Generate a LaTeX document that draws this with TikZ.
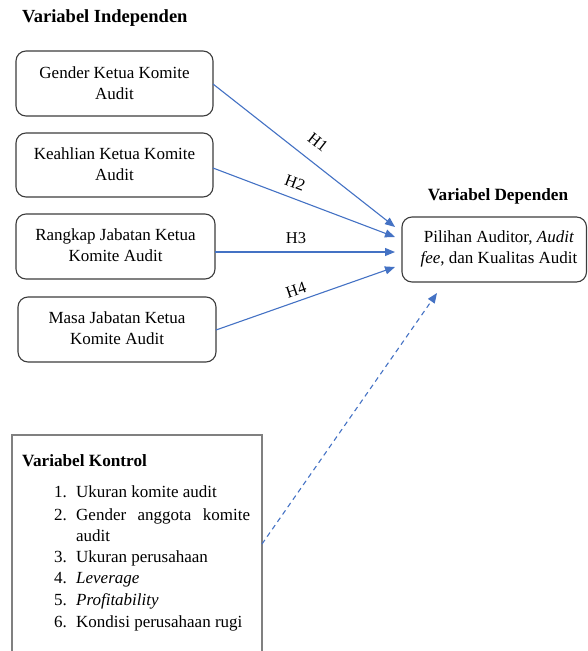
\documentclass[tikz,border=0pt]{standalone}
\usepackage{fontspec}
\setmainfont{Liberation Serif}
\usetikzlibrary{arrows.meta}
\definecolor{arrowblue}{RGB}{68,114,196}
\definecolor{boxgray}{RGB}{60,60,60}
\tikzset{
  varbox/.style={draw=boxgray, line width=1.1pt, rounded corners=10pt},
  boxtext/.style={font=\fontsize{17}{21}\selectfont, align=center, inner sep=0pt},
  heading/.style={font=\fontsize{17.2}{20}\selectfont\bfseries, inner sep=0pt},
  hyp/.style={draw=arrowblue, line width=1.1pt, -{Triangle[length=10pt,width=8pt]}},
  hlabel/.style={font=\fontsize{16.5}{19}\selectfont, inner sep=0pt},
  listtext/.style={font=\fontsize{17}{20}\selectfont, inner sep=0pt, anchor=base west},
}
\begin{document}
\begin{tikzpicture}[x=1pt,y=-1pt]
\useasboundingbox (0,0) rectangle (587,651);
% headings
\node[heading, font=\fontsize{18.5}{21}\selectfont\bfseries, anchor=west] (hind) at (22,18) {Variabel Independen};
\node[heading] (hdep) at (498,196) {Variabel Dependen};
% independent boxes
\draw[varbox] (16,51) rectangle (213,116);
\node[boxtext] (b1) at (114.5,83) {Gender Ketua Komite\\Audit};
\coordinate (b1e) at (213,84);
\draw[varbox] (16,133) rectangle (213,197);
\node[boxtext] (b2) at (114.5,164) {Keahlian Ketua Komite\\Audit};
\coordinate (b2e) at (213,168);
\draw[varbox] (16,214) rectangle (215,279);
\node[boxtext] (b3) at (115.5,245.5) {Rangkap Jabatan Ketua\\Komite Audit};
\coordinate (b3e) at (215,252);
\draw[varbox] (18,297) rectangle (216,362);
\node[boxtext] (b4) at (117,328.5) {Masa Jabatan Ketua\\Komite Audit};
\coordinate (b4e) at (216,330);
% dependent box
\draw[varbox] (402,217) rectangle (586.5,282);
\node[boxtext] (dep) at (499,248.5) {Pilihan Auditor, \textit{Audit}\\\textit{fee}, dan Kualitas Audit};
\coordinate (t1) at (395,227);
\coordinate (t2) at (395,237);
\coordinate (t3) at (395,252);
\coordinate (t4) at (395,267);
\coordinate (t5) at (437,293);
% arrows
\draw[hyp] (b1e) -- (t1);
\draw[hyp] (b2e) -- (t2);
\draw[hyp] (b3e) -- (t3);
\draw[hyp] (b4e) -- (t4);
\node[hlabel, rotate=-38] (l1) at (318,142) {H1};
\node[hlabel, rotate=-21] (l2) at (295,183) {H2};
\node[hlabel] (l3) at (296,238) {H3};
\node[hlabel, rotate=19] (l4) at (296,290) {H4};
% control box
\draw[draw=gray, line width=1.1pt] (12,660) -- (12,435) -- (262,435) -- (262,660);
\coordinate (ctrl) at (262,544);
\draw[hyp, dashed, dash pattern=on 5pt off 4pt] (ctrl) -- (t5);
\node[heading, anchor=west] (hk) at (22,461) {Variabel Kontrol};
\node[listtext] (n1) at (54,497) {1.};
\node[listtext] (i1) at (76,497) {Ukuran komite audit};
\node[listtext] (n2) at (54,520) {2.};
\node[listtext] (i2) at (76,520) {\makebox[174pt][s]{Gender\hfill anggota\hfill komite}};
\node[listtext] (i2b) at (76,541) {audit};
\node[listtext] (n3) at (54,562) {3.};
\node[listtext] (i3) at (76,562) {Ukuran perusahaan};
\node[listtext] (n4) at (54,583) {4.};
\node[listtext] (i4) at (76,583) {\textit{Leverage}};
\node[listtext] (n5) at (54,605) {5.};
\node[listtext] (i5) at (76,605) {\textit{Profitability}};
\node[listtext] (n6) at (54,627) {6.};
\node[listtext] (i6) at (76,627) {Kondisi perusahaan rugi};
\end{tikzpicture}
\end{document}
